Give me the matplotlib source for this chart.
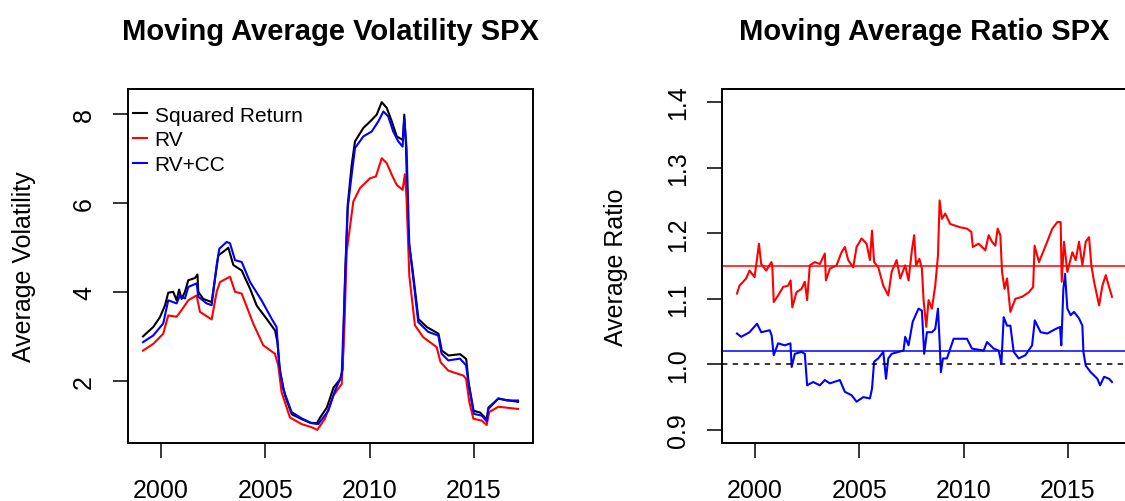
import matplotlib
matplotlib.use('Agg')
import matplotlib.pyplot as plt

plt.rcParams['font.family'] = ['Liberation Sans', 'DejaVu Sans']

# ---- left panel: moving average volatility ----
sq_year = [1999.14, 1999.63, 1999.95, 2000.19, 2000.35, 2000.59, 2000.75, 2000.87, 2000.99,
           2001.15, 2001.31, 2001.63, 2001.75, 2001.79, 2002.03, 2002.43, 2002.59, 2002.75,
           2002.99, 2003.23, 2003.47, 2003.87, 2004.27, 2004.59, 2005.07, 2005.47, 2005.58,
           2005.71, 2005.95, 2006.27, 2006.75, 2007.15, 2007.47, 2007.63, 2007.95, 2008.27,
           2008.59, 2008.71, 2008.82, 2008.95, 2009.14, 2009.30, 2009.70, 2010.10, 2010.34,
           2010.58, 2010.82, 2011.06, 2011.30, 2011.59, 2011.66, 2011.74, 2011.86, 2012.07,
           2012.34, 2012.74, 2013.30, 2013.46, 2013.78, 2014.34, 2014.63, 2014.74, 2014.98,
           2015.29, 2015.61, 2015.69, 2016.17, 2016.57, 2017.11]
sq_vol = [3.00, 3.21, 3.43, 3.69, 3.98, 4.00, 3.81, 4.05, 3.84,
          4.00, 4.26, 4.31, 4.39, 4.00, 3.84, 3.77, 4.30, 4.82,
          4.90, 4.99, 4.60, 4.48, 4.07, 3.69, 3.39, 3.13, 2.87,
          2.19, 1.66, 1.25, 1.14, 1.06, 1.05, 1.18, 1.40, 1.85,
          2.04, 2.27, 4.30, 5.95, 6.85, 7.38, 7.68, 7.86, 7.98,
          8.26, 8.13, 7.83, 7.49, 7.41, 7.98, 7.30, 5.20, 4.45,
          3.39, 3.21, 3.06, 2.68, 2.57, 2.60, 2.49, 1.97, 1.33,
          1.29, 1.14, 1.40, 1.60, 1.57, 1.53]

rv_year = [1999.14, 1999.63, 2000.11, 2000.35, 2000.75, 2000.99, 2001.31, 2001.71, 2001.87,
           2002.43, 2002.67, 2002.83, 2003.31, 2003.55, 2003.87, 2004.42, 2004.90, 2005.46,
           2005.62, 2005.78, 2006.18, 2006.74, 2007.22, 2007.49, 2007.86, 2008.26, 2008.66,
           2008.79, 2008.90, 2009.22, 2009.54, 2010.02, 2010.30, 2010.58, 2010.82, 2011.06,
           2011.30, 2011.58, 2011.69, 2011.77, 2011.90, 2012.17, 2012.57, 2013.21, 2013.40,
           2013.77, 2014.49, 2014.62, 2014.78, 2014.97, 2015.37, 2015.61, 2015.73, 2016.17,
           2017.11]
rv_vol = [2.68, 2.83, 3.06, 3.47, 3.44, 3.59, 3.81, 3.92, 3.55,
          3.38, 4.00, 4.22, 4.34, 4.00, 3.96, 3.29, 2.80, 2.61,
          2.35, 1.75, 1.18, 1.03, 0.96, 0.90, 1.15, 1.67, 1.93,
          3.17, 4.90, 6.03, 6.33, 6.55, 6.59, 7.00, 6.89, 6.63,
          6.40, 6.29, 6.64, 6.10, 4.37, 3.25, 2.98, 2.76, 2.42,
          2.23, 2.12, 2.05, 1.52, 1.15, 1.11, 1.01, 1.30, 1.42,
          1.37]

rvcc_year = [1999.14, 1999.63, 2000.11, 2000.35, 2000.75, 2000.91, 2001.15, 2001.31, 2001.71,
             2001.79, 2002.19, 2002.43, 2002.67, 2002.80, 2003.15, 2003.31, 2003.55, 2003.87,
             2004.27, 2004.82, 2005.30, 2005.54, 2005.67, 2005.86, 2006.26, 2006.74, 2007.22,
             2007.54, 2008.02, 2008.34, 2008.66, 2008.77, 2008.95, 2009.14, 2009.30, 2009.70,
             2010.10, 2010.42, 2010.66, 2010.89, 2011.13, 2011.37, 2011.58, 2011.66, 2011.77,
             2011.90, 2012.09, 2012.33, 2012.81, 2013.29, 2013.45, 2013.77, 2014.33, 2014.62,
             2014.78, 2015.00, 2015.37, 2015.61, 2015.69, 2016.17, 2016.57, 2017.11]
rvcc_vol = [2.87, 3.02, 3.29, 3.81, 3.74, 3.92, 3.85, 4.11, 4.19,
            3.89, 3.74, 3.70, 4.60, 4.97, 5.12, 5.09, 4.71, 4.67,
            4.22, 3.81, 3.40, 3.21, 2.35, 1.82, 1.30, 1.16, 1.05,
            1.03, 1.33, 1.78, 2.12, 3.55, 5.88, 6.63, 7.23, 7.49,
            7.60, 7.83, 8.05, 7.94, 7.60, 7.38, 7.26, 7.90, 7.23,
            5.05, 4.30, 3.32, 3.10, 3.02, 2.61, 2.46, 2.50, 2.35,
            1.82, 1.26, 1.22, 1.09, 1.37, 1.61, 1.56, 1.56]

# ---- right panel: moving average ratio ----
ratio_rv_year = [1999.14, 1999.26, 1999.58, 1999.74, 1999.98, 2000.10, 2000.19, 2000.30, 2000.54,
                 2000.79, 2000.83, 2000.90, 2001.11, 2001.35, 2001.59, 2001.71, 2001.79, 2001.99,
                 2002.23, 2002.39, 2002.50, 2002.63, 2002.87, 2003.11, 2003.35, 2003.40, 2003.59,
                 2003.91, 2004.15, 2004.31, 2004.47, 2004.71, 2004.87, 2005.11, 2005.35, 2005.51,
                 2005.61, 2005.71, 2005.91, 2006.15, 2006.39, 2006.55, 2006.79, 2006.96, 2007.20,
                 2007.36, 2007.52, 2007.63, 2007.72, 2007.88, 2008.00, 2008.08, 2008.21, 2008.32,
                 2008.48, 2008.64, 2008.77, 2008.85, 2008.96, 2009.12, 2009.36, 2009.84, 2010.16,
                 2010.37, 2010.44, 2010.72, 2011.04, 2011.20, 2011.36, 2011.52, 2011.63, 2011.76,
                 2011.84, 2011.96, 2012.08, 2012.24, 2012.48, 2012.80, 2013.13, 2013.33, 2013.40,
                 2013.61, 2013.93, 2014.25, 2014.49, 2014.65, 2014.70, 2014.81, 2014.97, 2015.21,
                 2015.37, 2015.53, 2015.69, 2015.85, 2016.01, 2016.12, 2016.25, 2016.49, 2016.65,
                 2016.81, 2016.97, 2017.11]
ratio_rv = [1.108, 1.120, 1.131, 1.143, 1.133, 1.161, 1.184, 1.153, 1.143,
            1.156, 1.151, 1.095, 1.105, 1.118, 1.120, 1.128, 1.087, 1.110,
            1.115, 1.126, 1.098, 1.151, 1.156, 1.153, 1.169, 1.128, 1.146,
            1.151, 1.171, 1.179, 1.159, 1.148, 1.179, 1.192, 1.184, 1.159,
            1.204, 1.156, 1.148, 1.120, 1.105, 1.141, 1.159, 1.131, 1.151,
            1.128, 1.174, 1.197, 1.151, 1.161, 1.146, 1.098, 1.057, 1.098,
            1.085, 1.120, 1.166, 1.250, 1.222, 1.230, 1.214, 1.209, 1.207,
            1.202, 1.179, 1.184, 1.174, 1.197, 1.187, 1.181, 1.207, 1.197,
            1.141, 1.115, 1.131, 1.080, 1.100, 1.103, 1.110, 1.118, 1.181,
            1.156, 1.181, 1.207, 1.217, 1.217, 1.126, 1.187, 1.141, 1.171,
            1.159, 1.187, 1.151, 1.187, 1.194, 1.151, 1.126, 1.090, 1.120,
            1.136, 1.118, 1.103]

ratio_cc_year = [1999.14, 1999.34, 1999.74, 2000.10, 2000.30, 2000.71, 2000.80, 2000.90, 2001.11,
                 2001.43, 2001.70, 2001.76, 2001.91, 2002.23, 2002.39, 2002.50, 2002.79, 2003.11,
                 2003.35, 2003.59, 2004.07, 2004.31, 2004.63, 2004.87, 2005.19, 2005.51, 2005.61,
                 2005.71, 2005.91, 2006.15, 2006.28, 2006.39, 2006.55, 2006.88, 2007.12, 2007.20,
                 2007.36, 2007.56, 2007.84, 2008.00, 2008.11, 2008.24, 2008.48, 2008.64, 2008.77,
                 2008.85, 2008.91, 2009.01, 2009.20, 2009.52, 2010.16, 2010.40, 2010.96, 2011.12,
                 2011.44, 2011.68, 2011.81, 2011.92, 2012.08, 2012.24, 2012.40, 2012.64, 2012.96,
                 2013.28, 2013.41, 2013.69, 2014.01, 2014.41, 2014.62, 2014.68, 2014.78, 2014.86,
                 2014.97, 2015.13, 2015.29, 2015.53, 2015.69, 2015.74, 2015.85, 2016.09, 2016.41,
                 2016.54, 2016.73, 2016.97, 2017.11]
ratio_cc = [1.047, 1.042, 1.049, 1.062, 1.049, 1.052, 1.044, 1.014, 1.032,
            1.029, 1.032, 0.996, 1.016, 1.019, 1.016, 0.968, 0.973, 0.968,
            0.976, 0.971, 0.976, 0.958, 0.953, 0.943, 0.950, 0.948, 0.963,
            1.004, 1.009, 1.019, 0.978, 1.009, 1.016, 1.019, 1.021, 1.042,
            1.029, 1.065, 1.085, 1.082, 1.016, 1.049, 1.049, 1.054, 1.085,
            1.034, 0.988, 1.009, 1.009, 1.039, 1.039, 1.024, 1.021, 1.034,
            1.024, 1.021, 1.001, 1.072, 1.059, 1.059, 1.019, 1.009, 1.014,
            1.029, 1.067, 1.049, 1.047, 1.054, 1.057, 1.029, 1.115, 1.138,
            1.085, 1.075, 1.080, 1.070, 1.059, 1.019, 0.998, 0.988, 0.978,
            0.968, 0.981, 0.978, 0.973]

mean_rv = 1.15
mean_cc = 1.02
ratio_ylim = (0.9, 1.4)

year_ticks = [2000, 2005, 2010, 2015]
vol_ticks = [2, 4, 6, 8]
ratio_ticks = [0.9, 1.0, 1.1, 1.2, 1.3, 1.4]

W, H = 1125, 502
fig = plt.figure(figsize=(W / 100, H / 100), dpi=100)


def style_axes(ax, yticks, ylabels, ylabel, ylabel_x):
    for s in ax.spines.values():
        s.set_linewidth(1.4)
    ax.set_xticks(year_ticks)
    ax.set_xticklabels([str(t) for t in year_ticks])
    ax.set_yticks(yticks)
    ax.set_yticklabels(ylabels)
    ax.tick_params(axis='both', length=11, width=1.1, labelsize=18, direction='out')
    ax.tick_params(axis='x', pad=14)
    ax.tick_params(axis='y', pad=12, labelrotation=90)
    for lbl in ax.get_yticklabels():
        lbl.set_va('center')
    ax.set_ylabel(ylabel, fontsize=18)
    ax.yaxis.set_label_coords(ylabel_x, 0.5)


# left panel
ax1 = fig.add_axes([128 / W, (H - 444) / H, 405 / W, 354 / H])
ax1.plot(sq_year, sq_vol, color='black', lw=1.5, label='Squared Return')
ax1.plot(rv_year, rv_vol, color='red', lw=1.5, label='RV')
ax1.plot(rvcc_year, rvcc_vol, color='blue', lw=1.5, label='RV+CC')
ax1.margins(x=0.04, y=0.04)
style_axes(ax1, vol_ticks, [str(t) for t in vol_ticks], 'Average Volatility', -0.227)
ax1.set_title('Moving Average Volatility SPX', fontsize=21, fontweight='bold', pad=36)
ax1.legend(loc='upper left', bbox_to_anchor=(0.012, 0.953), frameon=False, fontsize=15,
           handlelength=0.7, handletextpad=0.35, labelspacing=0.27, borderpad=0,
           borderaxespad=0)

# right panel
ax2 = fig.add_axes([722 / W, (H - 444) / H, 405 / W, 354 / H])
ax2.plot(ratio_rv_year, ratio_rv, color='red', lw=1.5)
ax2.plot(ratio_cc_year, ratio_cc, color='blue', lw=1.5)
ax2.axhline(mean_rv, color='red', lw=1.1)
ax2.axhline(mean_cc, color='blue', lw=1.1)
ax2.axhline(1.0, color='black', lw=1.1, dashes=(3.5, 3.5))
ax2.margins(x=0.04)
pad = 0.04 * (ratio_ylim[1] - ratio_ylim[0])
ax2.set_ylim(ratio_ylim[0] - pad, ratio_ylim[1] + pad)
style_axes(ax2, ratio_ticks, ['%.1f' % t for t in ratio_ticks], 'Average Ratio', -0.233)
ax2.set_title('Moving Average Ratio SPX', fontsize=21, fontweight='bold', pad=36)

fig.savefig('out.png', dpi=100)
